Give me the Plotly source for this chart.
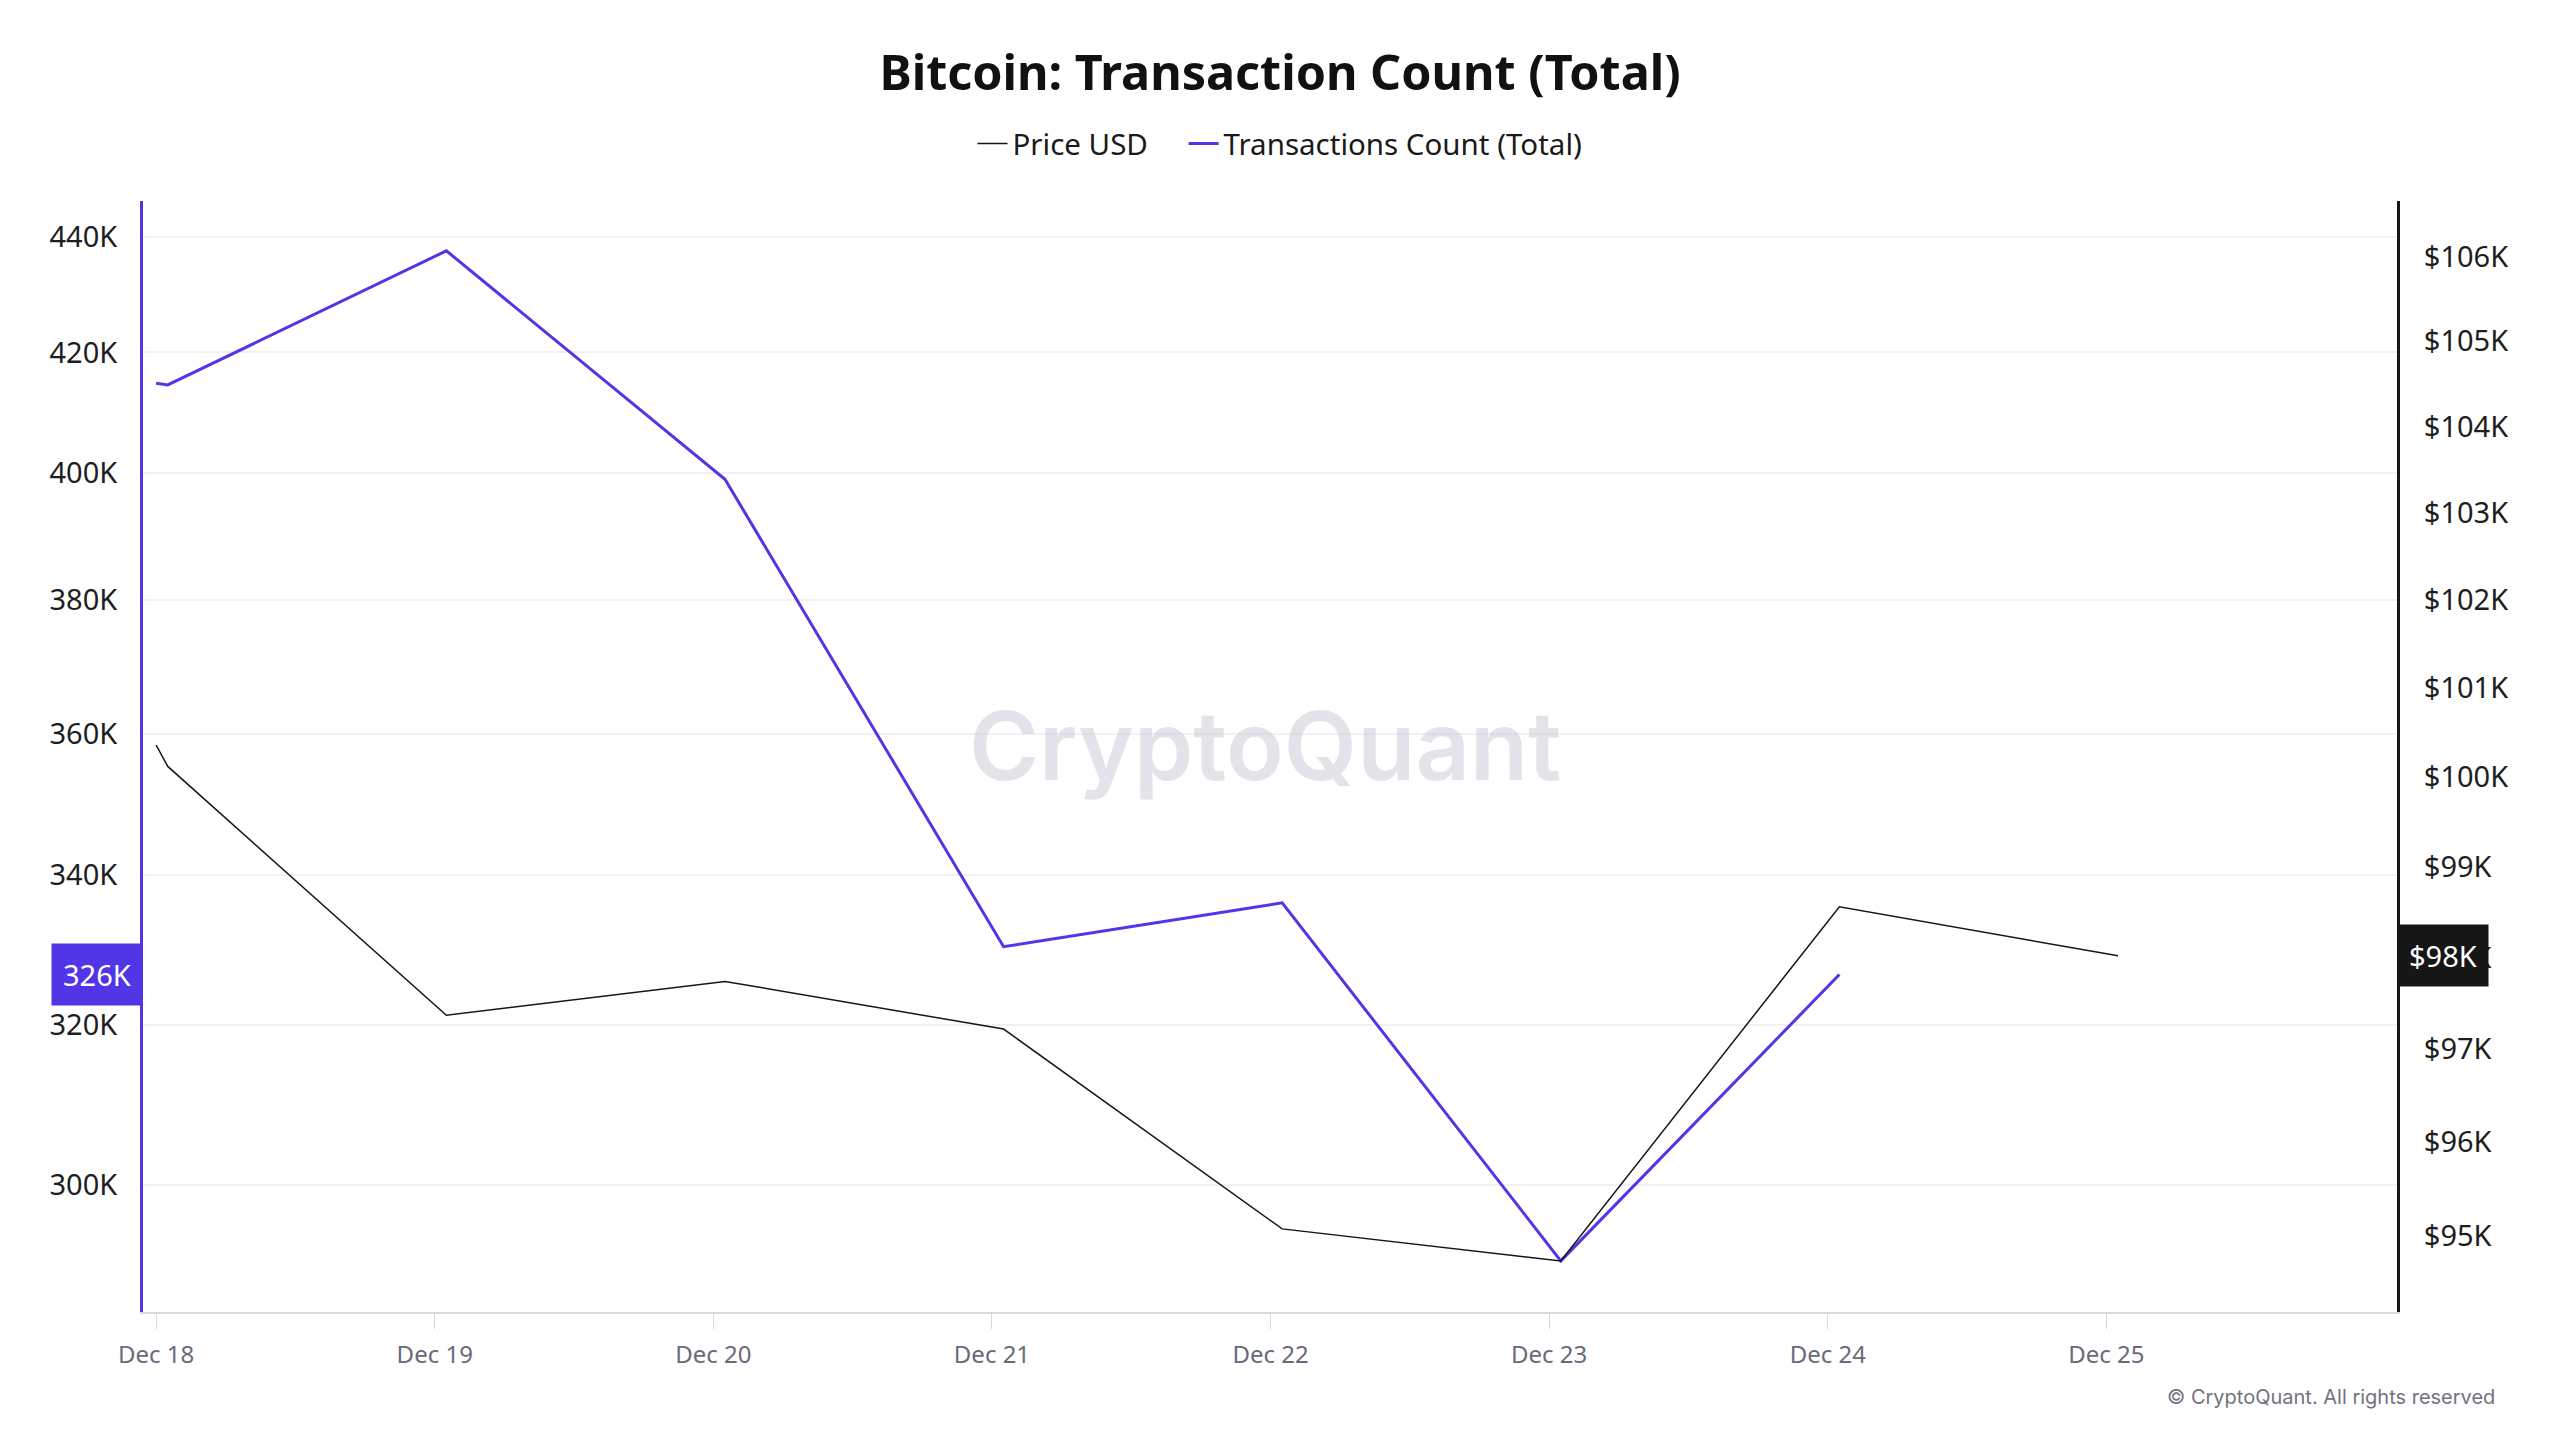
import numpy as np
import plotly.graph_objects as go

# ---- data ----
dates = ["2024-12-18 00:00", "2024-12-18 01:00", "2024-12-19 01:00", "2024-12-20 01:00",
         "2024-12-21 01:00", "2024-12-22 01:00", "2024-12-23 01:00", "2024-12-24 01:00",
         "2024-12-25 01:00"]
tx_count = [414800, 414500, 437600, 399000, 330300, 336200, 290900, 326600, None]
price_usd = [100360, 100120, 97370, 97740, 97220, 95070, 94730, 98560, 98020]

x_tick_vals = ["2024-12-18", "2024-12-19", "2024-12-20", "2024-12-21",
               "2024-12-22", "2024-12-23", "2024-12-24", "2024-12-25"]
x_tick_text = ["Dec 18", "Dec 19", "Dec 20", "Dec 21", "Dec 22", "Dec 23", "Dec 24", "Dec 25"]
left_tick_vals = [300000, 320000, 340000, 360000, 380000, 400000, 420000, 440000]
left_tick_text = ["300K", "320K", "340K", "360K", "380K", "400K", "420K", "440K"]
right_tick_vals = [95000, 96000, 97000, 98000, 99000, 100000, 101000, 102000, 103000, 104000, 105000, 106000]
right_tick_text = ["$95K", "$96K", "$97K", "$98K", "$99K", "$100K", "$101K", "$102K",
                   "$103K", "$104K", "$105K", "$106K"]

BLUE = "#5036e6"
BLACK = "#161616"
FONT = "Noto Sans"
NBSP = "\u00a0"

fig = go.Figure()
fig.add_trace(go.Scatter(x=dates, y=price_usd, name="Price USD" + NBSP * 4, mode="lines",
                         line=dict(color=BLACK, width=1.5), yaxis="y2"))
fig.add_trace(go.Scatter(x=dates, y=tx_count, name="Transactions Count (Total)", mode="lines",
                         line=dict(color=BLUE, width=3), yaxis="y"))

last_tx = [v for v in tx_count if v is not None][-1]
last_price = price_usd[-1]

annotations = [
    dict(text="CryptoQuant", xref="paper", yref="paper", x=0.498, y=0.5095,
         xanchor="center", yanchor="middle", showarrow=False,
         font=dict(family="Inter", size=95, color="rgba(190,188,205,0.42)", weight=600)),
    dict(text="© CryptoQuant. All rights reserved", xref="paper", yref="paper",
         x=1.0442, y=-0.0762, xanchor="right", yanchor="middle", showarrow=False,
         font=dict(family="Inter", size=20, color="#74727f")),
    dict(text=f"{int(last_tx // 1000)}K", xref="paper", yref="y", x=0, y=np.log10(last_tx),
         xanchor="right", yanchor="middle", showarrow=False, bgcolor=BLUE, borderpad=11,
         font=dict(family=FONT, size=29, color="white")),
    dict(text=f"${int(last_price // 1000)}K", xref="paper", yref="y2", x=1, y=np.log10(last_price),
         xanchor="left", yanchor="middle", showarrow=False, bgcolor=BLACK, borderpad=11,
         font=dict(family=FONT, size=29, color="white")),
]

fig.update_layout(
    width=2560, height=1440,
    margin=dict(l=143, r=163, t=201, b=128, autoexpand=False),
    paper_bgcolor="white", plot_bgcolor="white",
    title=dict(text="Bitcoin: Transaction Count (Total)", x=0.5, xanchor="center",
               yref="container", y=1 - 73.5 / 1440, yanchor="middle",
               font=dict(family=FONT, size=48.5, color="#111111", weight=700)),
    legend=dict(orientation="h", xref="container", x=0.5, xanchor="center",
                yref="container", y=1 - 143.7 / 1440, yanchor="middle",
                font=dict(family=FONT, size=29.5, color="#1a1a1a"), bgcolor="rgba(0,0,0,0)"),
    showlegend=True,
    hovermode=False,
    annotations=annotations,
    xaxis=dict(type="date", range=["2024-12-17 22:52", "2024-12-26 01:02"],
               tickmode="array", tickvals=x_tick_vals, ticktext=x_tick_text,
               showgrid=False, zeroline=False,
               showline=True, linecolor="#d8d8e0", linewidth=2,
               ticks="outside", ticklen=15, tickcolor="#d8d8e0", tickwidth=1,
               ticklabelstandoff=5,
               tickfont=dict(family=FONT, size=24, color="#6a6a7a")),
    yaxis=dict(type="log", range=[np.log10(284950), np.log10(446500)],
               tickmode="array", tickvals=left_tick_vals, ticktext=left_tick_text,
               showgrid=True, gridcolor="#f1f1f3", gridwidth=1.5, zeroline=False,
               showline=True, linecolor=BLUE, linewidth=3, ticks="",
               ticklabelstandoff=17,
               tickfont=dict(family=FONT, size=29, color="#1e1e1e")),
    yaxis2=dict(type="log", range=[np.log10(94190), np.log10(106660)], overlaying="y", side="right",
                tickmode="array", tickvals=right_tick_vals, ticktext=right_tick_text,
                showgrid=False, zeroline=False,
                showline=True, linecolor=BLACK, linewidth=3, ticks="",
                ticklabelstandoff=18,
                tickfont=dict(family=FONT, size=29, color="#1e1e1e")),
)

fig.write_html("out.html")
